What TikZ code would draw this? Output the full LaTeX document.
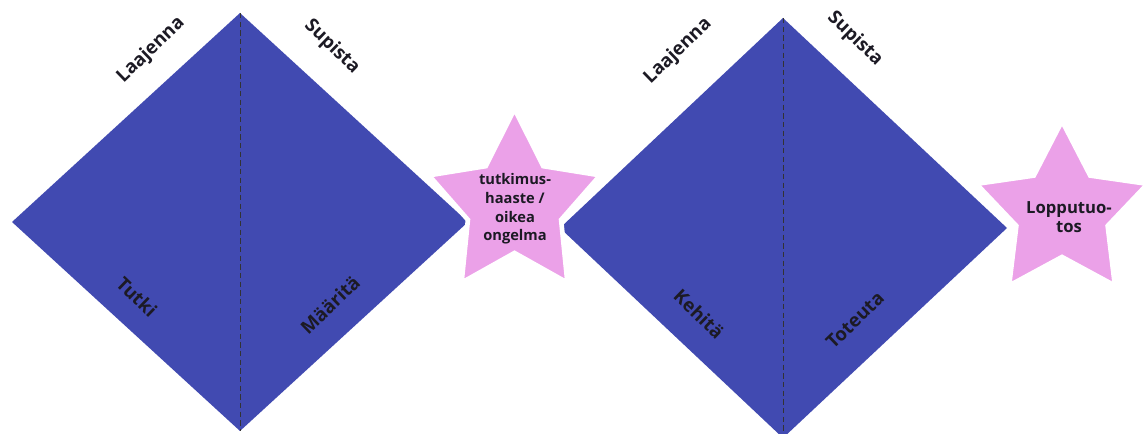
\documentclass[tikz,border=0pt]{standalone}
\usepackage{fontspec}
\setmainfont{Open Sans}
\definecolor{diamondblue}{HTML}{414AB1}
\definecolor{starpink}{HTML}{EBA1E8}
\definecolor{labelink}{HTML}{1C1A24}
\begin{document}
\begin{tikzpicture}[x=0.75pt,y=-0.75pt,
    diamondfill/.style={fill=diamondblue},
    midline/.style={draw=black!80, line width=0.75pt, dash pattern=on 4pt off 2.5pt},
    starshape/.style={fill=starpink, draw=white, line width=3.5pt, line join=miter},
    phaselabel/.style={font=\bfseries\fontsize{14}{16}\selectfont, text=labelink, inner sep=0pt},
    startext/.style={font=\bfseries\fontsize{11}{14}\selectfont, text=labelink, align=center, inner sep=0pt}]
    \useasboundingbox (0,0) rectangle (1146,434);

    % Corners of the two diamonds
    \coordinate (t1) at (240,13);
    \coordinate (r1) at (468,222);
    \coordinate (b1) at (240,431);
    \coordinate (l1) at (12,222);
    \coordinate (t2) at (783,18);
    \coordinate (r2) at (1007,228);
    \coordinate (b2) at (783,438);
    \coordinate (l2) at (560,228);

    % Diamonds with dashed middle line
    \fill[diamondfill] (t1) -- (r1) -- (b1) -- (l1) -- cycle;
    \draw[midline] (t1) -- (b1);
    \fill[diamondfill] (t2) -- (r2) -- (b2) -- (l2) -- cycle;
    \draw[midline] (t2) -- (b2);

    % Stars between and after the diamonds
    \coordinate (s1) at (514.5,205);
    \coordinate (s2) at (1062,212);
    \path[starshape] ([shift={(270:90 and 96)}]s1)
        \foreach \a [evaluate=\a as \b using \a+36] in {270,342,54,126,198}
        { -- ([shift={(\a:90 and 96)}]s1) -- ([shift={(\b:49 and 48)}]s1) } -- cycle;
    \path[starshape] ([shift={(270:90 and 91)}]s2)
        \foreach \a [evaluate=\a as \b using \a+36] in {270,342,54,126,198}
        { -- ([shift={(\a:90 and 91)}]s2) -- ([shift={(\b:48 and 45)}]s2) } -- cycle;

    % Star texts
    \node[startext] (goal1) at (515,209) {tutkimus-\\haaste /\\oikea\\ongelma};
    \node[startext, font=\bfseries\fontsize{12.5}{14}\selectfont] (goal2) at (1069,217) {Lopputuo-\\tos};

    % Labels of the first diamond
    \node[phaselabel, rotate=44] (widen1) at (151,50) {Laajenna};
    \node[phaselabel, rotate=-44] (narrow1) at (332,47) {Supista};
    \node[phaselabel, rotate=-44] (explore) at (137,297) {Tutki};
    \node[phaselabel, rotate=44] (define) at (330,305) {Määritä};

    % Labels of the second diamond
    \node[phaselabel, rotate=44] (widen2) at (678,51) {Laajenna};
    \node[phaselabel, rotate=-44] (narrow2) at (855,39) {Supista};
    \node[phaselabel, rotate=-44] (develop) at (699,314) {Kehitä};
    \node[phaselabel, rotate=44] (deliver) at (855,320) {Toteuta};
\end{tikzpicture}
\end{document}
